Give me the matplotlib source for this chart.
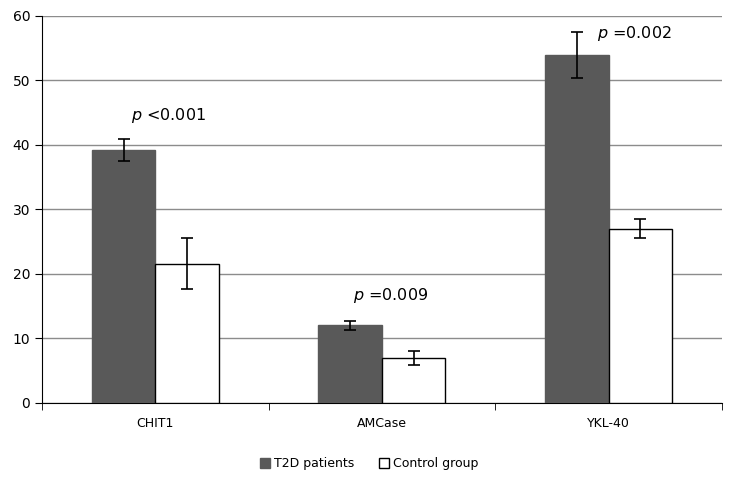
import numpy as np
import matplotlib.pyplot as plt
from matplotlib.patches import Patch

# data
markers = ['CHIT1', 'AMCase', 'YKL-40']
t2d = [39.2, 12.0, 53.9]
t2d_err = [1.75, 0.7, 3.6]
ctrl = [21.6, 6.9, 27.0]
ctrl_err = [3.9, 1.1, 1.5]
p_labels = ['<0.001', '=0.009', '=0.002']

dark = '#595959'
x = np.arange(len(markers))
w = 0.28

fig = plt.figure(figsize=(7.31, 4.79), dpi=100)
ax = fig.add_axes([0.0575, 0.159, 0.93, 0.808])

ax.bar(x - w / 2, t2d, w, color=dark, edgecolor=dark, zorder=3)
ax.bar(x + w / 2, ctrl, w, color='white', edgecolor='black', linewidth=1.0, zorder=3)
ax.errorbar(x - w / 2, t2d, yerr=t2d_err, fmt='none', ecolor='black',
            elinewidth=1.2, capsize=4, capthick=1.2, zorder=4)
ax.errorbar(x + w / 2, ctrl, yerr=ctrl_err, fmt='none', ecolor='black',
            elinewidth=1.2, capsize=4, capthick=1.2, zorder=4)

# p-value labels
p_pos = [(0.06, 44.5), (0.04, 16.6), (-0.05, 57.3)]
for i, (dx, yy) in enumerate(p_pos):
    ha = 'left' if i == 2 else 'center'
    ax.text(x[i] + dx, yy, r'$p$ ' + p_labels[i], ha=ha, va='center', fontsize=11.5)

ax.set_xlim(-0.5, 2.5)
ax.set_ylim(0, 60)
ax.set_yticks(range(0, 61, 10))
ax.yaxis.grid(True, color='#8c8c8c', linewidth=1.0, zorder=0)
ax.set_axisbelow(True)

ax.set_xticks(x)
ax.set_xticklabels(markers, fontsize=9)
ax.set_xticks([-0.5, 0.5, 1.5, 2.5], minor=True)
ax.tick_params(axis='x', which='major', length=0, pad=10)
ax.tick_params(axis='x', which='minor', length=5, direction='out', color='black')
ax.tick_params(axis='y', labelsize=10, length=5, direction='out', color='black')

for s in ['top', 'right']:
    ax.spines[s].set_visible(False)
ax.spines['left'].set_color('black')
ax.spines['bottom'].set_color('black')

handles = [Patch(facecolor=dark, edgecolor=dark, label='T2D patients'),
           Patch(facecolor='white', edgecolor='black', label='Control group')]
fig.legend(handles=handles, loc='center', bbox_to_anchor=(0.505, 0.032), ncol=2,
           frameon=False, fontsize=9, handlelength=0.8, handleheight=0.8,
           handletextpad=0.3, columnspacing=2.0)

fig.savefig('out.png', dpi=100)
